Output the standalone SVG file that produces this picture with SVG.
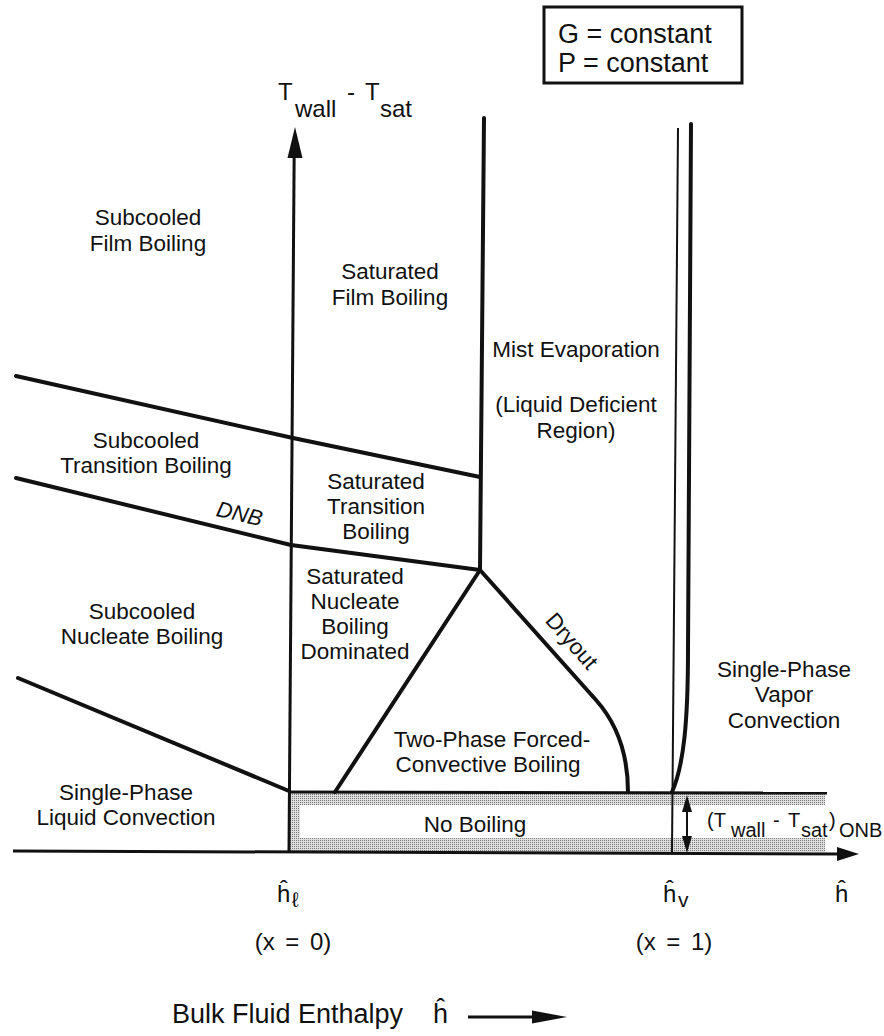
<svg xmlns="http://www.w3.org/2000/svg" width="884" height="1036" viewBox="0 0 884 1036">
<defs>
<pattern id="stipple" width="2" height="2" patternUnits="userSpaceOnUse">
<rect width="2" height="2" fill="#dedede"/>
<rect width="1" height="1" fill="#7a7a7a"/>
</pattern>
</defs>
<style>
text{font-family:"Liberation Sans",Arial,Helvetica,sans-serif;fill:#111}
.lb{font-size:22.5px;text-anchor:middle}
.b{fill:none;stroke:#111;stroke-width:4;stroke-linejoin:round;stroke-linecap:round}
.ax{fill:none;stroke:#111;stroke-width:3}
.thin{fill:none;stroke:#111;stroke-width:2}
.ah{fill:#111;stroke:none}
</style>
<rect width="884" height="1036" fill="#fff"/>

<g id="legend">
<rect x="544" y="7" width="198" height="76" fill="#fff" stroke="#111" stroke-width="3"/>
<text x="558" y="43" font-size="27">G = constant</text>
<text x="558" y="72" font-size="27">P = constant</text>
</g>

<g id="no-boiling">
<rect x="289" y="793" width="536" height="59" fill="url(#stipple)"/>
<rect x="300" y="805" width="525" height="33" fill="#fff"/>
<text class="lb" x="475" y="832">No Boiling</text>
</g>

<g id="axes">
<line class="ax" x1="289" y1="852" x2="294.2" y2="150"/>
<polygon class="ah" points="295,127 302.5,158 287.5,158"/>
<line class="ax" x1="13" y1="851" x2="840" y2="854"/>
<polygon class="ah" points="859,854 837,847 837,861"/>
</g>

<g id="connectors">
<polyline class="b" points="16,376 293,438 480,477"/>
<polyline class="b" points="16,478 291,545 480,570"/>
<line class="b" x1="18" y1="678" x2="289" y2="791"/>
<line class="b" x1="484" y1="118" x2="480" y2="570"/>
<line class="b" x1="480" y1="570" x2="335" y2="792"/>
<path class="b" d="M480,570 L596,700 C612,718 628,745 628,792"/>
<line class="ax" x1="289" y1="792" x2="827" y2="793"/>
<line class="thin" x1="678" y1="128" x2="672" y2="852"/>
<path class="b" d="M691,124 L688,650 C688,720 684,765 672,792"/>
<line class="thin" x1="687" y1="808" x2="687" y2="840"/>
<polygon class="ah" points="687,795 692,812 682,812"/>
<polygon class="ah" points="687,853 692,836 682,836"/>
</g>

<g id="y-axis-label">
<text font-size="24"><tspan x="278" y="100">T</tspan><tspan x="295" y="117">wall</tspan><tspan x="347" y="100">-</tspan><tspan x="365" y="100">T</tspan><tspan x="380" y="117">sat</tspan></text>
</g>

<g id="onb-label">
<text font-size="20"><tspan x="707" y="827">(T</tspan><tspan x="731" y="837">wall</tspan><tspan x="773" y="827">-</tspan><tspan x="788" y="827">T</tspan><tspan x="801" y="837">sat</tspan><tspan x="829" y="827">)</tspan><tspan x="839" y="837">ONB</tspan></text>
</g>

<g id="subcooled-film">
<text class="lb" x="148" y="225">Subcooled</text>
<text class="lb" x="148" y="251">Film Boiling</text>
</g>
<g id="saturated-film">
<text class="lb" x="390" y="279">Saturated</text>
<text class="lb" x="390" y="305">Film Boiling</text>
</g>
<g id="mist-evaporation">
<text class="lb" x="576" y="357">Mist Evaporation</text>
<text class="lb" x="576" y="412">(Liquid Deficient</text>
<text class="lb" x="576" y="438">Region)</text>
</g>
<g id="subcooled-transition">
<text class="lb" x="146" y="448">Subcooled</text>
<text class="lb" x="146" y="473">Transition Boiling</text>
</g>
<g id="dnb">
<text x="238" y="521" font-size="22" font-style="italic" text-anchor="middle" transform="rotate(13 238 521)">DNB</text>
</g>
<g id="saturated-transition">
<text class="lb" x="376" y="489">Saturated</text>
<text class="lb" x="376" y="514">Transition</text>
<text class="lb" x="376" y="539">Boiling</text>
</g>
<g id="saturated-nucleate">
<text class="lb" x="355" y="584">Saturated</text>
<text class="lb" x="355" y="609">Nucleate</text>
<text class="lb" x="355" y="634">Boiling</text>
<text class="lb" x="355" y="659">Dominated</text>
</g>
<g id="subcooled-nucleate">
<text class="lb" x="142" y="619">Subcooled</text>
<text class="lb" x="142" y="644">Nucleate Boiling</text>
</g>
<g id="dryout">
<text class="lb" x="566" y="646" transform="rotate(49 566 646)">Dryout</text>
</g>
<g id="two-phase">
<text class="lb" x="492" y="747">Two-Phase Forced-</text>
<text class="lb" x="488" y="772">Convective Boiling</text>
</g>
<g id="vapor-convection">
<text class="lb" x="784" y="677">Single-Phase</text>
<text class="lb" x="784" y="702">Vapor</text>
<text class="lb" x="784" y="728">Convection</text>
</g>
<g id="liquid-convection">
<text class="lb" x="126" y="800">Single-Phase</text>
<text class="lb" x="126" y="825">Liquid Convection</text>
</g>

<g id="x-axis-labels">
<text font-size="24"><tspan x="277" y="902">ĥ</tspan><tspan x="292" y="907" font-size="21">ℓ</tspan></text>
<text font-size="24" x="293" y="950" text-anchor="middle" word-spacing="4">(x = 0)</text>
<text font-size="24"><tspan x="663" y="902">ĥ</tspan><tspan x="678" y="907" font-size="21">v</tspan></text>
<text font-size="24" x="674" y="950" text-anchor="middle" word-spacing="4">(x = 1)</text>
<text font-size="24" x="835" y="902">ĥ</text>
</g>

<g id="enthalpy-label">
<text x="172" y="1023" font-size="27">Bulk Fluid Enthalpy</text>
<text x="433" y="1023" font-size="27">ĥ</text>
<line x1="468" y1="1017" x2="535" y2="1017" stroke="#111" stroke-width="3"/>
<polygon class="ah" points="567,1017 532,1010.5 532,1023.5"/>
</g>
</svg>
